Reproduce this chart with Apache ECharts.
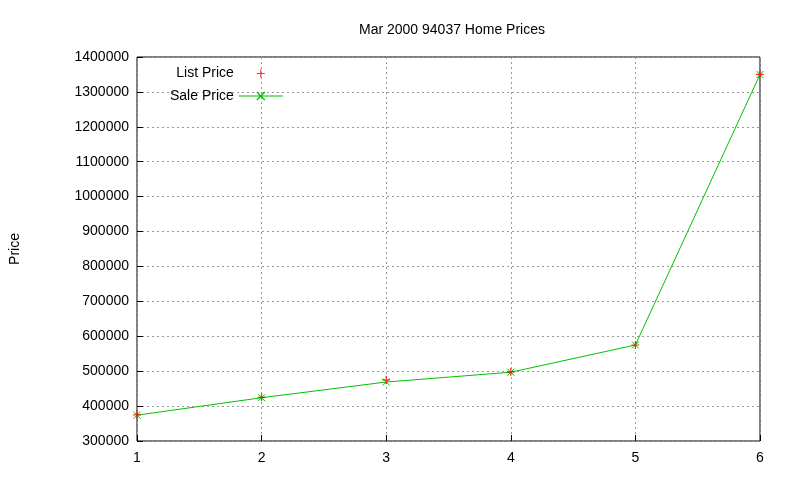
<!DOCTYPE html>
<html><head><meta charset="utf-8">
<script src="https://cdn.jsdelivr.net/npm/echarts@6/dist/echarts.min.js"></script>
<style>html,body{margin:0;padding:0;background:#fff}#c{width:800px;height:480px}</style>
</head><body><div id="c"></div>
<script>
const xValues = [1, 2, 3, 4, 5, 6];
const listPrice = [375000, 425000, 475000, 498000, 575000, 1350000];
const salePrice = [374000, 424000, 469000, 497000, 575000, 1350000];
const titleText = 'Mar 2000 94037 Home Prices';
const plusPath = 'path://M0,5L10,5M5,0L5,10';
const crossPath = 'path://M0,0L10,10M10,0L0,10';
const saleIcon = 'path://M0,5L44,5M18,1L26,9M26,1L18,9';
const chart = echarts.init(document.getElementById('c'));
const font = 'Liberation Sans';
chart.setOption({
  animation: false,
  title: {text: titleText, left: 447, top: 18, textAlign: 'center',
    textStyle: {fontFamily: font, fontSize: 14, fontWeight: 'normal', color: '#000'}},
  grid: {left: 134, right: 40, top: 57, bottom: 39, show: true, borderColor: '#000', borderWidth: 1},
  legend: {left: 165, top: 61, orient: 'vertical', align: 'right', itemGap: 8,
    itemWidth: 44, itemHeight: 10, textStyle: {fontFamily: font, fontSize: 14, color: '#000'},
    data: [
      {name: 'List Price', icon: 'path://M18,5L26,5M22,1L22,9M0,0L0,0M44,10L44,10', itemStyle: {color: 'none', borderColor: '#ff0000', borderWidth: 1.2}},
      {name: 'Sale Price', icon: saleIcon, itemStyle: {color: 'none', borderColor: '#00c000', borderWidth: 1.2}}
    ]},
  xAxis: {type: 'value', min: 1, max: 6, interval: 1,
    axisLine: {show: false}, axisTick: {inside: true, length: 6, lineStyle: {color: '#000'}},
    axisLabel: {fontFamily: font, fontSize: 14, color: '#000', margin: 10},
    splitLine: {lineStyle: {color: '#999', type: [2, 3]}}},
  yAxis: {type: 'value', min: 300000, max: 1400000, interval: 100000,
    name: 'Price', nameLocation: 'middle', nameGap: 115, nameRotate: 90,
    nameTextStyle: {fontFamily: font, fontSize: 14, color: '#000'},
    axisLine: {show: false}, axisTick: {inside: true, length: 6, lineStyle: {color: '#000'}},
    axisLabel: {fontFamily: font, fontSize: 14, color: '#000', margin: 8, formatter: v => String(v)},
    splitLine: {lineStyle: {color: '#999', type: [2, 3]}}},
  series: [
    {name: 'Sale Price', type: 'line', data: xValues.map((x, i) => [x, salePrice[i]]),
      symbol: crossPath, symbolSize: 7, showAllSymbol: true, z: 2,
      lineStyle: {color: '#00c000', width: 1},
      itemStyle: {color: 'none', borderColor: '#00c000', borderWidth: 1}},
    {name: 'List Price', type: 'scatter', data: xValues.map((x, i) => [x, listPrice[i]]),
      symbol: plusPath, symbolSize: 8, z: 3,
      itemStyle: {color: 'none', borderColor: '#ff0000', borderWidth: 1.2}}
  ]
});
</script></body></html>
